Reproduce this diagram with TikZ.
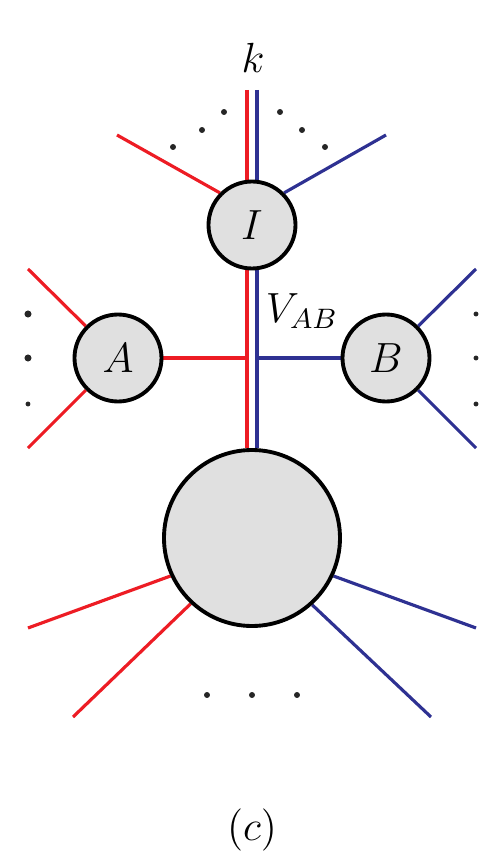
\documentclass[tikz,border=0pt]{standalone}
\usepackage{amsmath}
\usetikzlibrary{backgrounds}
\definecolor{legred}{RGB}{237,28,36}
\definecolor{legblue}{RGB}{46,49,146}
\definecolor{blobgray}{RGB}{224,224,224}
\begin{document}
\begin{tikzpicture}[font=\large,
  blob/.style={circle,draw=black,line width=1.1pt,fill=blobgray,inner sep=0pt},
  redleg/.style={draw=legred,line width=0.9pt},
  blueleg/.style={draw=legblue,line width=0.9pt}]
\useasboundingbox (-2.52,-3.16) rectangle (2.49,5.38);
\node[blob,minimum size=1.76cm] (big) at (0,0) {};
\node[blob,minimum size=0.87cm] (I) at (0,3.13) {$I$};
\node[blob,minimum size=0.87cm] (A) at (-1.34,1.80) {$A$};
\node[blob,minimum size=0.87cm] (B) at (1.34,1.80) {$B$};
\node (k) at (0.01,4.80) {$k$};
\node (vab) at (0.50,2.27) {$V_{AB}$};
\node (lab) at (0,-2.92) {$(c)$};
% free ends of the legs
\coordinate (kr) at (-0.05,4.48);
\coordinate (kb) at (0.05,4.48);
\coordinate (jr) at (-0.05,1.80);
\coordinate (jb) at (0.05,1.80);
\coordinate (il) at (-1.35,4.03);
\coordinate (ir) at (1.34,4.03);
\coordinate (au) at (-2.24,2.69);
\coordinate (ad) at (-2.24,0.90);
\coordinate (bu) at (2.24,2.69);
\coordinate (bd) at (2.24,0.90);
\coordinate (gl1) at (-2.24,-0.90);
\coordinate (gl2) at (-1.79,-1.79);
\coordinate (gr1) at (2.24,-0.90);
\coordinate (gr2) at (1.79,-1.79);
\begin{scope}[on background layer]
\draw[redleg] (kr) -- (kr |- big.north);
\draw[blueleg] (kb) -- (kb |- big.north);
\draw[redleg] (A) -- (jr);
\draw[blueleg] (jb) -- (B);
\draw[redleg] (il) -- (I.135);
\draw[blueleg] (ir) -- (I.45);
\draw[redleg] (au) -- (A);
\draw[redleg] (ad) -- (A);
\draw[blueleg] (bu) -- (B);
\draw[blueleg] (bd) -- (B);
\draw[redleg] (gl1) -- (big.205);
\draw[redleg] (gl2) -- (big.227);
\draw[blueleg] (gr1) -- (big.335);
\draw[blueleg] (gr2) -- (big.312);
\end{scope}
% dots
\foreach \x/\y in {-0.79/3.91,-0.50/4.08,-0.28/4.26,0.28/4.26,0.50/4.08,0.73/3.91,-0.45/-1.57,0/-1.57,0.45/-1.57}
  \fill[black!85] (\x,\y) circle (0.85pt);
\foreach \y in {2.24,1.80}
  \fill[black!85] (-2.24,\y) circle (1pt);
\foreach \x/\y in {-2.24/1.34,2.24/2.24,2.24/1.80,2.24/1.34}
  \fill[black!85] (\x,\y) circle (0.7pt);
\end{tikzpicture}
\end{document}
